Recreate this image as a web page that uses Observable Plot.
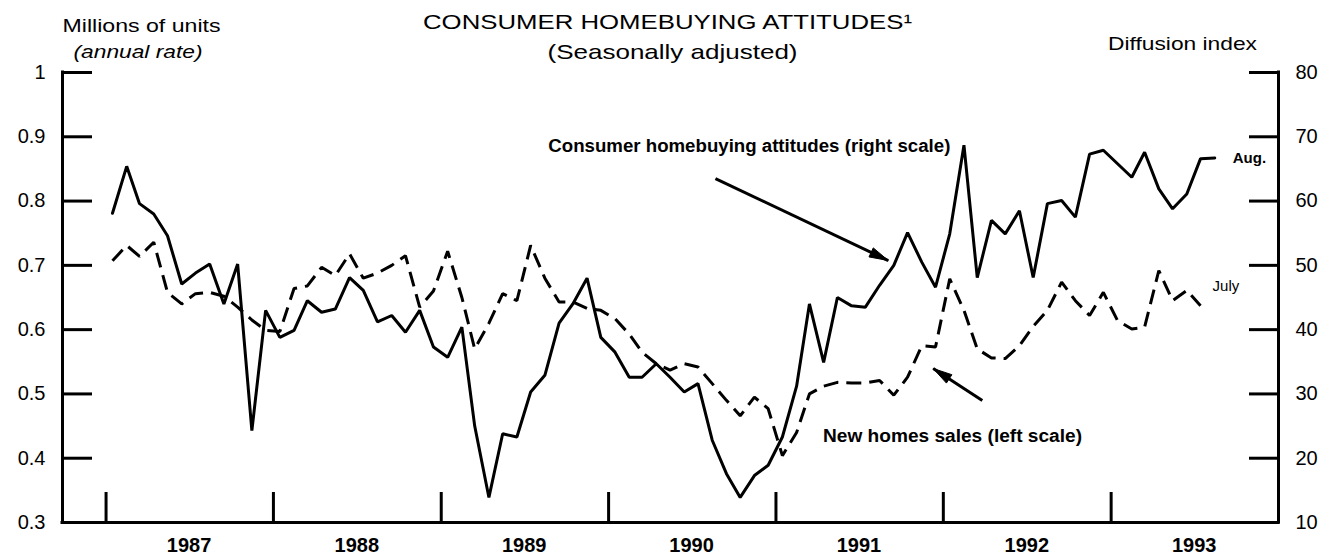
<!DOCTYPE html>
<html><head><meta charset="utf-8">
<script src="https://cdn.jsdelivr.net/npm/d3@7"></script>
<script src="https://cdn.jsdelivr.net/npm/@observablehq/plot@0.6"></script>
<style>body{margin:0;background:#fff}</style>
</head><body><div id="chart"></div>
<script>
// ---- data ----
const startYear = 1987; // first month = Jan 1987, monthly observations
const years = [1987, 1988, 1989, 1990, 1991, 1992, 1993];
const leftTicks = [0.3, 0.4, 0.5, 0.6, 0.7, 0.8, 0.9, 1];
const rightTicks = [10, 20, 30, 40, 50, 60, 70, 80];

// Consumer homebuying attitudes, diffusion index (right scale), Jan 1987 - Aug 1993
const attitudes = [
  58.1, 65.4, 59.6, 58.0, 54.6, 47.1, 48.8, 50.2, 44.0, 50.2, 24.3, 43.0,
  38.8, 39.9, 44.5, 42.7, 43.2, 48.1, 46.1, 41.2, 42.2, 39.6, 43.0, 37.3,
  35.7, 40.4, 25.0, 13.9, 23.8, 23.3, 30.3, 32.9, 41.0, 44.0, 48.0, 38.8,
  36.5, 32.6, 32.6, 34.7, 32.6, 30.3, 31.6, 22.8, 17.6, 13.9, 17.3, 18.9,
  23.3, 31.2, 44.0, 34.9, 45.0, 43.7, 43.5, 46.9, 50.0, 55.1, 50.5, 46.6,
  54.9, 68.7, 48.1, 57.0, 54.9, 58.5, 48.1, 59.6, 60.1, 57.5, 67.3, 67.9,
  65.8, 63.7, 67.6, 61.9, 58.8, 61.1, 66.6, 66.7
];
// New home sales, millions of units, annual rate (left scale), Jan 1987 - Jul 1993
const homeSales = [
  0.707, 0.731, 0.714, 0.736, 0.658, 0.640, 0.656, 0.658, 0.652, 0.635, 0.615, 0.599,
  0.597, 0.664, 0.668, 0.697, 0.684, 0.718, 0.680, 0.688, 0.700, 0.715, 0.635, 0.660,
  0.722, 0.650, 0.570, 0.610, 0.656, 0.645, 0.731, 0.680, 0.643, 0.643, 0.633, 0.630,
  0.617, 0.593, 0.565, 0.547, 0.537, 0.547, 0.542, 0.516, 0.490, 0.466, 0.495, 0.477,
  0.404, 0.440, 0.500, 0.512, 0.518, 0.517, 0.517, 0.521, 0.498, 0.526, 0.575, 0.573,
  0.679, 0.630, 0.570, 0.556, 0.555, 0.575, 0.605, 0.630, 0.674, 0.645, 0.622, 0.658,
  0.614, 0.601, 0.604, 0.692, 0.645, 0.661, 0.637
];

const titleText = "CONSUMER HOMEBUYING ATTITUDES\u00B9";
const subtitleText = "(Seasonally adjusted)";
const leftTitle = ["Millions of units", "(annual rate)"];
const rightTitle = "Diffusion index";

const annotations = [
  {text: "Consumer homebuying attitudes (right scale)", date: "1990-11-04", value: 0.886},
  {text: "New homes sales (left scale)", date: "1992-01-21", value: 0.4353}
];
const pointers = [
  {d1: "1990-08-22", v1: 0.835, d2: "1991-09-03", v2: 0.7075},
  {d1: "1992-03-26", v1: 0.4898, d2: "1991-12-10", v2: 0.5395}
];

// ---- build ----
const toLeft = r => 0.3 + (r - 10) / 100;
const monthDate = k => new Date(Date.UTC(startYear, k, 15));
const attData = attitudes.map((v, k) => ({date: monthDate(k), value: toLeft(v)}));
const salesData = homeSales.map((v, k) => ({date: monthDate(k), value: v}));
const pDate = s => new Date(s + "T00:00:00Z");
const xDomain = [new Date(Date.UTC(1986, 8, 28)), new Date(Date.UTC(1994, 0, 1))];
const font = '"Liberation Sans", Arial, Helvetica, sans-serif';

const baseOptions = {
  width: 1333, height: 554,
  marginLeft: 62, marginRight: 55, marginTop: 72, marginBottom: 32,
  x: {type: "utc", domain: xDomain, label: null},
  y: {domain: [0.3, 1], label: null},
  style: {fontFamily: font, fontSize: "20px", color: "black", background: "white", overflow: "visible"}
};

// first pass: get the scales, to orient the filled arrowheads on screen
const probe = Plot.plot({...baseOptions, marks: [Plot.ruleY([0.3])]});
const sx = probe.scale("x"), sy = probe.scale("y");
function headSymbol(p) {
  const dx = sx.apply(pDate(p.d2)) - sx.apply(pDate(p.d1));
  const dy = sy.apply(p.v2) - sy.apply(p.v1);
  const len = Math.hypot(dx, dy), ux = dx / len, uy = dy / len;
  const L = 19, W = 5;
  return {draw(ctx) {
    ctx.moveTo(0, 0);
    ctx.lineTo(-ux * L - uy * W, -uy * L + ux * W);
    ctx.lineTo(-ux * L + uy * W, -uy * L - ux * W);
    ctx.closePath();
  }};
}

const chart = Plot.plot({
  ...baseOptions,
  marks: [
    Plot.line(salesData, {x: "date", y: "value", stroke: "black", strokeWidth: 3, strokeDasharray: "15,8", strokeLinejoin: "miter", strokeLinecap: "butt"}),
    Plot.line(attData, {x: "date", y: "value", stroke: "black", strokeWidth: 3, strokeLinejoin: "miter"}),
    Plot.ruleX(xDomain, {stroke: "black", strokeWidth: 3, strokeLinecap: "square"}),
    Plot.ruleY([0.3], {stroke: "black", strokeWidth: 3, strokeLinecap: "square"}),
    Plot.axisY(leftTicks, {anchor: "left", label: null, tickSize: -30, tickPadding: 47, strokeWidth: 3, fontSize: 20,
      tickFormat: d => d === 1 ? "1" : d.toFixed(1)}),
    Plot.axisY(rightTicks.map(toLeft), {anchor: "right", label: null, tickSize: -30, tickPadding: 47, strokeWidth: 3, fontSize: 20,
      tickFormat: d => String(Math.round((d - 0.3) * 100 + 10))}),
    Plot.axisX(years.map(y => new Date(Date.UTC(y, 0, 1))), {anchor: "bottom", label: null, tickSize: -30, strokeWidth: 3, tickFormat: () => ""}),
    Plot.axisX(years.map(y => new Date(Date.UTC(y, 6, 1))), {anchor: "bottom", label: null, tickSize: 0, tickPadding: 15,
      fontSize: 20, fontWeight: "bold", tickFormat: d => String(d.getUTCFullYear())}),
    // titles
    Plot.text([titleText], {frameAnchor: "top", text: d => d, dx: -3, dy: -50, lineAnchor: "middle", textAnchor: "middle", fontSize: 21, ariaLabel: () => "title"}),
    Plot.text([subtitleText], {frameAnchor: "top", text: d => d, dx: 2, dy: -20.5, lineAnchor: "middle", textAnchor: "middle", fontSize: 21, ariaLabel: () => "subtitle"}),
    Plot.text([leftTitle[0]], {frameAnchor: "top-left", text: d => d, dx: 79, dy: -47, lineAnchor: "middle", textAnchor: "middle", fontSize: 19, ariaLabel: () => "ltitle1"}),
    Plot.text([leftTitle[1]], {frameAnchor: "top-left", text: d => d, dx: 75.5, dy: -21, lineAnchor: "middle", textAnchor: "middle", fontSize: 19, fontStyle: "italic", ariaLabel: () => "ltitle2"}),
    Plot.text([rightTitle], {frameAnchor: "top-right", text: d => d, dx: -96, dy: -29, lineAnchor: "middle", textAnchor: "middle", fontSize: 19, ariaLabel: () => "rtitle"}),
    // annotations
    Plot.text(annotations, {x: d => pDate(d.date), y: "value", text: "text", fontSize: 18.8, fontWeight: "bold", textAnchor: "middle", ariaLabel: (d, i) => "annot" + i}),
    Plot.link(pointers, {x1: d => pDate(d.d1), y1: "v1", x2: d => pDate(d.d2), y2: "v2", stroke: "black", strokeWidth: 3}),
    ...pointers.map(p => Plot.dot([p], {x: d => pDate(d.d2), y: "v2", symbol: headSymbol(p), fill: "black", stroke: "black", strokeWidth: 1})),
    Plot.text([attData[attData.length - 1]], {x: "date", y: "value", text: () => "Aug.", dx: 18, textAnchor: "start", fontSize: 15, fontWeight: "bold"}),
    Plot.text([salesData[salesData.length - 1]], {x: "date", y: "value", text: () => "July", dx: 12, dy: -20, textAnchor: "start", fontSize: 15})
  ]
});

// stretch text to the wide typeface of the original
const widths = {title: 489, subtitle: 250, ltitle1: 158, ltitle2: 129, rtitle: 149, annot0: 402, annot1: 259};
for (const [label, w] of Object.entries(widths)) {
  chart.querySelectorAll(`text[aria-label="${label}"], g[aria-label="${label}"] text`).forEach(t => {
    t.setAttribute("textLength", w); t.setAttribute("lengthAdjust", "spacingAndGlyphs");
  });
}
document.getElementById("chart").appendChild(chart);
</script>
</body></html>
